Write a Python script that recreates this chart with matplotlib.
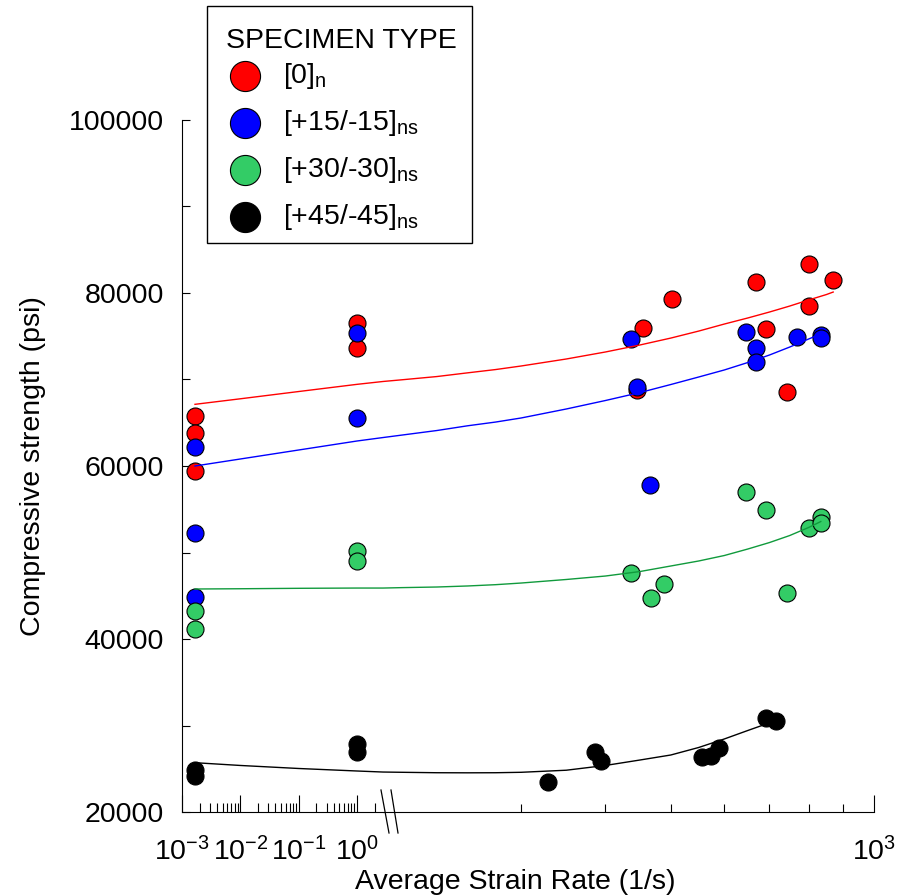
import matplotlib
matplotlib.use('Agg')
import matplotlib.pyplot as plt
from matplotlib.lines import Line2D
from matplotlib.patches import Rectangle

plt.rcParams['font.family'] = ['Liberation Sans', 'DejaVu Sans']
plt.rcParams['mathtext.default'] = 'regular'

# measured points: strain rate (1/s), compressive strength (psi)
red_rate = [1.67e-3, 1.67e-3, 1.67e-3, 1, 1, 455, 502, 446, 668, 692, 801, 870, 801, 743]
red_psi = [65800, 63800, 59400, 76500, 73600, 75950, 79300, 68800, 81300, 75800, 83350, 81500, 78500, 68550]

blue_rate = [1.67e-3, 1.67e-3, 1.67e-3, 1, 1, 436, 446, 466, 646, 668, 668, 769, 834, 834]
blue_psi = [62200, 52250, 44850, 65550, 75400, 74700, 69100, 57800, 75500, 73650, 72000, 74900, 75150, 74800]

green_rate = [1.67e-3, 1.67e-3, 1, 1, 436, 489, 467, 646, 692, 743, 801, 834, 834]
green_psi = [43250, 41150, 50150, 49000, 47650, 46350, 44750, 57000, 54900, 45300, 52850, 54100, 53400]

black_rate = [1.67e-3, 1.67e-3, 1, 1, 329, 386, 394, 556, 574, 589, 692, 716]
black_psi = [24850, 24160, 27900, 26900, 23450, 26950, 25900, 26350, 26450, 27400, 30850, 30500]

# trend curves (2.79 and 187.3 are the two sides of the axis break)
red_fit_rate = [1.67e-3, 1e-2, 1e-1, 1, 2.79, 187.3, 200, 225, 250, 275, 300, 350, 400,
                450, 500, 550, 600, 650, 700, 750, 800, 850, 870]
red_fit = [67130, 67770, 68610, 69440, 69770, 69770, 69970, 70340, 70770, 71150, 71560, 72370,
           73180, 73990, 74790, 75600, 76410, 77110, 77800, 78490, 79190, 79820, 80110]

blue_fit_rate = [1.67e-3, 1e-2, 1e-1, 1, 2.79, 187.3, 200, 225, 250, 275, 300, 350, 400,
                 450, 500, 550, 600, 650, 700, 750, 800, 834]
blue_fit = [60000, 60810, 61850, 62890, 63290, 63290, 63580, 64100, 64650, 65080, 65550, 66590,
            67570, 68490, 69420, 70290, 71100, 71960, 72830, 73750, 74680, 75260]

green_fit_rate = blue_fit_rate
green_fit = [45780, 45810, 45860, 45890, 45890, 45890, 45940, 46010, 46130, 46280, 46470, 46880,
             47280, 47800, 48440, 49020, 49650, 50400, 51150, 51960, 52890, 53580]

black_fit_rate = [1.67e-3, 1e-2, 1e-1, 1, 2.79, 187.3, 200, 225, 250, 275, 300, 350, 400,
                  450, 500, 550, 600, 650, 692]
black_fit = [25700, 25380, 25030, 24740, 24620, 24620, 24590, 24540, 24530, 24540, 24590, 24830,
             25380, 26010, 26590, 27460, 28440, 29420, 30170]

labels = ['[0]$_n$', '[+15/-15]$_{ns}$', '[+30/-30]$_{ns}$', '[+45/-45]$_{ns}$']
colors = ['#ff0000', '#0000ff', '#33cc66', '#000000']
line_colors = ['#ff0000', '#0000ff', '#109a3c', '#000000']

series = [(red_rate, red_psi, red_fit_rate, red_fit),
          (blue_rate, blue_psi, blue_fit_rate, blue_fit),
          (green_rate, green_psi, green_fit_rate, green_fit),
          (black_rate, black_psi, black_fit_rate, black_fit)]

fig = plt.figure(figsize=(9.04, 8.96), dpi=100)
bot = 1 - 812 / 896
h = (812 - 120) / 896
axl = fig.add_axes([182 / 904, bot, (383 - 182) / 904, h])
axr = fig.add_axes([383 / 904, bot, (874 - 383) / 904, h], sharey=axl)

handles = []
for i, (xr, yp, fx, fy) in enumerate(series):
    left = [k for k in range(len(xr)) if xr[k] < 100]
    right = [k for k in range(len(xr)) if xr[k] >= 100]
    for ax, idx in ((axl, left), (axr, right)):
        sc = ax.scatter([xr[k] for k in idx], [yp[k] for k in idx], s=150,
                        c=colors[i], edgecolors='k', linewidths=0.8, zorder=2 + i * 0.1)
    handles.append(sc)
    fl = [k for k in range(len(fx)) if fx[k] < 100]
    fr = [k for k in range(len(fx)) if fx[k] >= 100]
    axl.plot([fx[k] for k in fl], [fy[k] for k in fl], color=line_colors[i], lw=1, zorder=4)
    axr.plot([fx[k] for k in fr], [fy[k] for k in fr], color=line_colors[i], lw=1, zorder=4)

for ax in (axl, axr):
    ax.set_xscale('log')
    ax.spines['top'].set_visible(False)
    ax.spines['right'].set_visible(False)
axr.spines['left'].set_visible(False)

axl.set_xlim(1e-3, 2.79)
axr.set_xlim(187.3, 1000)
axl.set_ylim(20000, 100000)

axl.set_yticks([20000, 40000, 60000, 80000, 100000])
axl.set_yticks([30000, 50000, 70000, 90000], minor=True)
axl.set_yticklabels(['20000', '40000', '60000', '80000', '100000'])

axl.set_xticks([1e-3, 1e-2, 1e-1, 1])
axl.set_xticklabels(['$10^{-3}$', '$10^{-2}$', '$10^{-1}$', '$10^{0}$'])
axl.set_xticks([m * d for d in (1e-3, 1e-2, 1e-1) for m in range(2, 10)] + [2], minor=True)
axl.xaxis.set_minor_formatter(plt.NullFormatter())
axr.set_xticks([1000])
axr.set_xticklabels(['$10^{3}$'])
axr.set_xticks([300, 400, 500, 600, 700, 800, 900], minor=True)
axr.xaxis.set_minor_formatter(plt.NullFormatter())

axl.tick_params(axis='y', which='both', direction='in', length=6, width=0.8, labelsize=20.5, pad=13)
axl.tick_params(axis='x', which='major', direction='in', length=12, width=0.8, labelsize=20.5, pad=18)
axl.tick_params(axis='x', which='minor', direction='in', length=6.5, width=0.8)
axr.tick_params(axis='y', which='both', left=False, labelleft=False)
axr.tick_params(axis='x', which='major', direction='in', length=12, width=0.8, labelsize=20.5, pad=18)
axr.tick_params(axis='x', which='minor', direction='in', length=6, width=0.8)

# break marks on the x axis
fig.add_artist(Line2D([381 / 904, 389 / 904], [1 - 790 / 896, 1 - 833 / 896], color='k', lw=0.9))
fig.add_artist(Line2D([391 / 904, 398 / 904], [1 - 790 / 896, 1 - 833 / 896], color='k', lw=0.9))

fig.text(515 / 904, 1 - 882 / 896, 'Average Strain Rate (1/s)', ha='center', va='center', fontsize=20.5)
fig.text(33 / 904, 1 - 466 / 896, 'Compressive strength (psi)', ha='center', va='center',
         rotation=90, fontsize=20.5)

# legend: frame, title and entries
fig.add_artist(Rectangle((207 / 904, 1 - 243 / 896), 265 / 904, 237 / 896, fill=False,
                         ec='k', lw=1, transform=fig.transFigure))
fig.text(341 / 904, 1 - 41 / 896, 'SPECIMEN TYPE', ha='center', va='center', fontsize=20.5)
leg = fig.legend(handles, labels, loc='upper left', bbox_to_anchor=(225 / 904, 1 - 61 / 896),
                 frameon=False, fontsize=20.5, markerscale=1.77, scatterpoints=1,
                 handletextpad=0.63, handlelength=1.4, labelspacing=0.6, borderpad=0,
                 borderaxespad=0)

fig.savefig('out.png', dpi=100)
